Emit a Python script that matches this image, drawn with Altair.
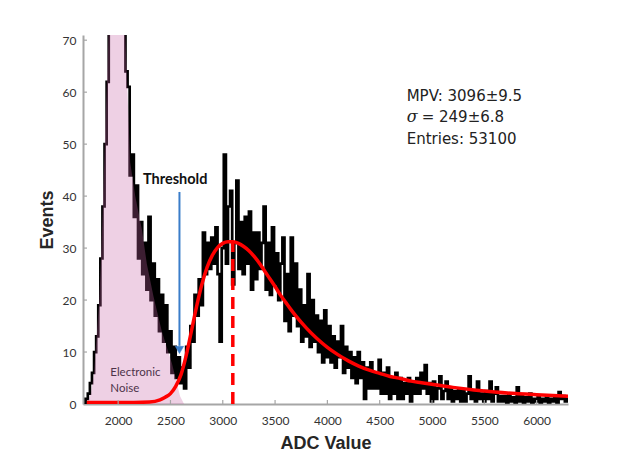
import altair as alt
import pandas as pd

# ---------------- data ----------------
# histogram (20-ADC bins starting at 1680)
bin_start = 1680
bin_step = 20
counts = [
    0, 1, 2, 4, 6, 10, 13, 19, 28, 38,
    50, 62, 75, 88, 95, 98, 96, 90, 82, 74,
    64, 61, 44, 48, 36, 42, 28, 35, 25, 31,
    22, 36, 20, 27, 17, 24, 14, 21, 12, 19,
    10, 14, 6, 11, 5, 9, 4, 7, 3, 11,
    7, 15, 12, 21, 17, 24, 19, 33, 25, 31,
    26, 32, 27, 34, 25, 12, 30, 48, 27, 38,
    41, 23, 31, 43, 26, 35, 25, 36, 27, 37,
    22, 33, 24, 33, 26, 31, 38, 22, 31, 21,
    34, 23, 29, 20, 27, 32, 16, 25, 14, 32,
    17, 27, 15, 22, 12, 19, 13, 25, 11, 20,
    12, 17, 10, 16, 8, 18, 9, 15, 8, 13,
    7, 12, 9, 15, 6, 11, 7, 10, 5, 9,
    4, 10, 5, 8, 1, 7, 3, 8, 3, 6,
    3, 8.5, 2, 6, 2, 7, 1, 5, 2, 6,
    1, 5, 1, 4, 2, 5, 0.5, 4, 2, 5,
    2, 6, 3, 7.5, 2, 4, 0.5, 4.3, 1, 3,
    5.3, 1, 2.5, 4.3, 1, 3, 0.5, 2.5, 1, 3,
    0.5, 2.5, 0.5, 2, 5.3, 1, 2.5, 0.5, 4.3, 1,
    2, 0.5, 2.5, 1, 4.3, 0.5, 2, 3.2, 0.5, 1.5,
    0.5, 1.5, 0.3, 2, 0.5, 1.3, 0.3, 3.2, 0.5, 1.5,
    0.3, 1.3, 0.5, 2, 0.3, 1, 0.5, 1.5, 0.3, 1,
    0.5, 1.3, 0.3, 1, 0.5, 1.5, 0.3, 2.3, 1, 1.5, 0.5, 1,
]
adc = [bin_start + bin_step * i for i in range(len(counts))]

# electronic-noise shape (pink)
noise_adc = [1700, 1740, 1770, 1790, 1820, 1840, 1860, 1880, 1900, 1912,
             1960, 2020, 2060, 2068, 2115, 2163, 2227, 2274, 2338, 2417,
             2513, 2592, 2630]
noise_val = [0, 2, 6, 12, 20, 30, 42, 55, 66, 75,
             95, 90, 78, 71, 46.5, 40, 33.6, 27, 20.7, 14,
             7.9, 1.5, 0]

# Landau fit (red)
fit_adc = [1700, 2000, 2300, 2400, 2450, 2500, 2550, 2600, 2650, 2700,
           2750, 2800, 2850, 2900, 2950, 3000, 3050, 3100, 3150, 3200,
           3250, 3300, 3350, 3400, 3450, 3500, 3550, 3600, 3650, 3700,
           3800, 3900, 4000, 4100, 4200, 4300, 4400, 4500, 4600, 4700,
           4800, 4900, 5000, 5200, 5400, 5600, 5800, 6000, 6300]
fit_val = [0.3, 0.3, 0.4, 0.8, 1.3, 2.0, 3.4, 5.6, 9.3, 14.0,
           18.8, 23.0, 26.3, 28.6, 30.1, 30.9, 31.2, 31.2, 30.9, 30.3,
           29.5, 28.4, 27.1, 25.6, 24.1, 22.6, 21.0, 19.6, 18.2, 16.9,
           14.6, 12.6, 10.9, 9.5, 8.3, 7.3, 6.5, 5.9, 5.3, 4.9,
           4.4, 4.1, 3.8, 3.2, 2.7, 2.3, 2.0, 1.8, 1.5]

mpv = 3096
mpv_top = 31
threshold = 2586
threshold_top = 40.8
threshold_tip = 10.4

x_ticks = [2000, 2500, 3000, 3500, 4000, 4500, 5000, 5500, 6000]
y_ticks = [0, 10, 20, 30, 40, 50, 60, 70]

stats_lines = ["MPV: 3096\u00b19.5", "Entries: 53100"]
stats_vals = [58.3, 50.0]
sigma_sym = "\u03c3"
sigma_rest = "= 249\u00b16.8"
sigma_val = 54.2
stats_x = 4758

noise_label = ["Electronic", "Noise"]
noise_label_vals = [5.4, 2.4]
noise_label_x = 1925

threshold_label = "Threshold"
threshold_label_x = 2545
threshold_label_val = 42.3

# ---------------- chart ----------------
XS = alt.Scale(domain=[1664, 6300], nice=False, zero=False)
YS = alt.Scale(domain=[0, 71], nice=False, zero=True)
GRAY = "#A6A6A6"
ARROW = "#3A7DC9"

df_hist = pd.DataFrame({"adc": adc, "val": counts})
df_noise = pd.DataFrame({"adc": noise_adc, "val": noise_val})
df_fit = pd.DataFrame({"adc": fit_adc, "val": fit_val})

x_axis = alt.Axis(values=x_ticks, format="d", title="ADC Value", grid=False, ticks=False,
                  labelFont="Lato", labelFontSize=12, labelColor="#333333",
                  labelPadding=11, domainColor=GRAY, domainWidth=2,
                  titleFont="Liberation Sans", titleFontSize=18,
                  titleFontWeight="bold", titleColor="#262626", titlePadding=8)
y_axis = alt.Axis(values=y_ticks, format="d", title="Events", grid=False, ticks=False,
                  labelFont="Lato", labelFontSize=12, labelColor="#333333",
                  labelPadding=7, domainColor=GRAY, domainWidth=2,
                  titleFont="Liberation Sans", titleFontSize=18,
                  titleFontWeight="bold", titleColor="#262626", titlePadding=6)

hist = alt.Chart(df_hist).mark_line(
    color="black", strokeWidth=2.7, interpolate="step", clip=True
).encode(
    x=alt.X("adc:Q", scale=XS, axis=x_axis),
    y=alt.Y("val:Q", scale=YS, axis=y_axis),
)

noise = alt.Chart(df_noise).mark_area(
    color="#C864A7", opacity=0.3, clip=True
).encode(x=alt.X("adc:Q", scale=XS), y=alt.Y("val:Q", scale=YS))

fit = alt.Chart(df_fit).mark_line(
    color="#FF0000", strokeWidth=3.5, interpolate="monotone", clip=True
).encode(x=alt.X("adc:Q", scale=XS), y=alt.Y("val:Q", scale=YS))

df_mpv = pd.DataFrame({"adc": [mpv], "val": [0], "val2": [mpv_top]})
mpv_rule = alt.Chart(df_mpv).mark_rule(
    color="#FF0000", strokeWidth=3.5, strokeDash=[12, 7]
).encode(x=alt.X("adc:Q", scale=XS), y=alt.Y("val:Q", scale=YS), y2="val2:Q")

df_arrow = pd.DataFrame({"adc": [threshold], "val": [threshold_top], "val2": [threshold_tip + 0.8]})
arrow = alt.Chart(df_arrow).mark_rule(color=ARROW, strokeWidth=2).encode(
    x=alt.X("adc:Q", scale=XS), y=alt.Y("val:Q", scale=YS), y2="val2:Q")
df_head = pd.DataFrame({"adc": [threshold], "val": [threshold_tip]})
head = alt.Chart(df_head).mark_point(
    shape="triangle-down", filled=True, size=70, color=ARROW, opacity=1,
    fill=ARROW, stroke=ARROW, strokeWidth=0.5
).encode(x=alt.X("adc:Q", scale=XS), y=alt.Y("val:Q", scale=YS))

# inward ticks
df_xt = pd.DataFrame({"adc": x_ticks})
xt = alt.Chart(df_xt).mark_rule(color=GRAY, strokeWidth=1.2).encode(
    x=alt.X("adc:Q", scale=XS), y=alt.value(369), y2=alt.value(365))
df_yt = pd.DataFrame({"val": y_ticks[1:]})
yt = alt.Chart(df_yt).mark_rule(color=GRAY, strokeWidth=1.2).encode(
    y=alt.Y("val:Q", scale=YS), x=alt.value(0), x2=alt.value(4))

df_stats = pd.DataFrame({"adc": [stats_x] * len(stats_lines), "val": stats_vals, "t": stats_lines})
stats = alt.Chart(df_stats).mark_text(
    font="DejaVu Sans", fontSize=15, color="#222222", align="left", baseline="alphabetic"
).encode(x=alt.X("adc:Q", scale=XS), y=alt.Y("val:Q", scale=YS), text="t:N")

df_sig = pd.DataFrame({"adc": [stats_x], "val": [sigma_val], "t": [sigma_sym]})
sig = alt.Chart(df_sig).mark_text(
    font="DejaVu Serif", fontSize=16, fontStyle="italic", color="#222222",
    align="left", baseline="alphabetic"
).encode(x=alt.X("adc:Q", scale=XS), y=alt.Y("val:Q", scale=YS), text="t:N")
df_sig2 = pd.DataFrame({"adc": [stats_x], "val": [sigma_val], "t": [sigma_rest]})
sig2 = alt.Chart(df_sig2).mark_text(
    font="DejaVu Sans", fontSize=15, color="#222222", align="left",
    baseline="alphabetic", dx=15
).encode(x=alt.X("adc:Q", scale=XS), y=alt.Y("val:Q", scale=YS), text="t:N")

df_nl = pd.DataFrame({"adc": [noise_label_x] * 2, "val": noise_label_vals, "t": noise_label})
nl = alt.Chart(df_nl).mark_text(
    font="Lato", fontSize=11.5, color="#4D3349", align="left", baseline="alphabetic"
).encode(x=alt.X("adc:Q", scale=XS), y=alt.Y("val:Q", scale=YS), text="t:N")

df_tl = pd.DataFrame({"adc": [threshold_label_x], "val": [threshold_label_val], "t": [threshold_label]})
tl = alt.Chart(df_tl).mark_text(
    font="Lato", fontSize=14.5, fontWeight="bold", color="#111111",
    align="center", baseline="alphabetic"
).encode(x=alt.X("adc:Q", scale=XS), y=alt.Y("val:Q", scale=YS), text="t:N")

chart = alt.layer(
    hist, noise, fit, mpv_rule, arrow, head, xt, yt, stats, sig, sig2, nl, tl
).properties(
    width=485, height=369,
    autosize=alt.AutoSizeParams(type="none"),
    padding={"left": 75, "top": 27, "right": 45, "bottom": 50},
    background="white",
).configure_view(strokeWidth=0)

chart.save("out.html", embed_options={"renderer": "svg", "actions": False})
